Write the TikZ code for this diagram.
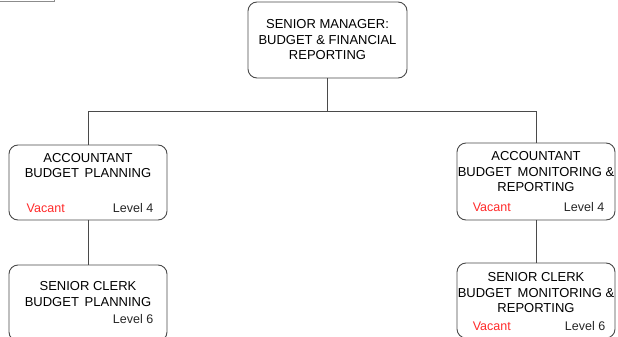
\documentclass[tikz,border=0pt]{standalone}
\usepackage{fontspec}
\setmainfont{Liberation Sans}
\usepackage{xcolor}
\usetikzlibrary{positioning,calc}

\definecolor{vacantred}{HTML}{FF2A2A}
\definecolor{boxgrey}{HTML}{4A4A4A}

\begin{document}
\begin{tikzpicture}[
    x=1pt, y=1pt,
    orgbox/.style={
        rectangle, draw=boxgrey, line width=0.9pt,
        rounded corners=9pt,
        minimum width=158pt,
        inner sep=0pt
    },
    title/.style={
        inner sep=0pt, align=center,
        text=black,
        font=\fontsize{13}{15.5}\selectfont
    },
    note/.style={inner sep=0pt, font=\fontsize{12.5}{14}\selectfont},
    vacant/.style={note, text=vacantred},
    grade/.style={note, text=black!85},
    link/.style={draw=boxgrey, line width=0.9pt},
]

\useasboundingbox (0,0) rectangle (618,-337);
\clip (0,0) rectangle (618,-337);

% corner of the box sitting above
\node[orgbox, minimum width=90pt, minimum height=40pt, rounded corners=0pt,
      draw=black!45, anchor=south east] (above) at (55,-2) {};

% head of section
\node[orgbox, minimum width=159pt, minimum height=76pt, align=center,
      font=\fontsize{13}{15.5}\selectfont, text=black] (mgr) at (327.5,-40)
    {SENIOR MANAGER:\\BUDGET \& FINANCIAL\\REPORTING};

% accountants
\node[orgbox, minimum height=75pt] (accplan) at (88,-182.5) {};
\node[title, below=8.5pt of accplan.north] (accplant) {ACCOUNTANT\\BUDGET\, PLANNING};
\node[vacant, above right=8pt and 18pt of accplan.south west] (accplanv) {Vacant};
\node[grade, above left=8pt and 14pt of accplan.south east] (accplanl) {Level 4};

\node[orgbox, minimum height=77pt] (accmon) at (536,-181.5) {};
\node[title, below=9pt of accmon.north] (accmont) {ACCOUNTANT\\BUDGET\, MONITORING \&\\REPORTING};
\node[vacant, above right=9pt and 16pt of accmon.south west] (accmonv) {Vacant};
\node[grade, above left=9pt and 11pt of accmon.south east] (accmonl) {Level 4};

% senior clerks
\node[orgbox, minimum height=76pt] (clkplan) at (88,-303) {};
\node[title, below=17pt of clkplan.north] (clkplant) {SENIOR CLERK\\BUDGET\, PLANNING};
\node[grade, above left=18pt and 14pt of clkplan.south east] (clkplanl) {Level 6};

\node[orgbox, minimum height=75pt] (clkmon) at (536,-300.5) {};
\node[title, below=10pt of clkmon.north] (clkmont) {SENIOR CLERK\\BUDGET\, MONITORING \&\\REPORTING};
\node[vacant, above right=8pt and 16pt of clkmon.south west] (clkmonv) {Vacant};
\node[grade, above left=8pt and 10pt of clkmon.south east] (clkmonl) {Level 6};

% reporting lines
\coordinate (bus) at ($(mgr.south)+(0,-33)$);
\draw[link] (mgr.south) -- (bus);
\draw[link] (accplan.north) |- (bus) -| (accmon.north);
\draw[link] (accplan.south) -- (clkplan.north);
\draw[link] (accmon.south) -- (clkmon.north);

\end{tikzpicture}
\end{document}
